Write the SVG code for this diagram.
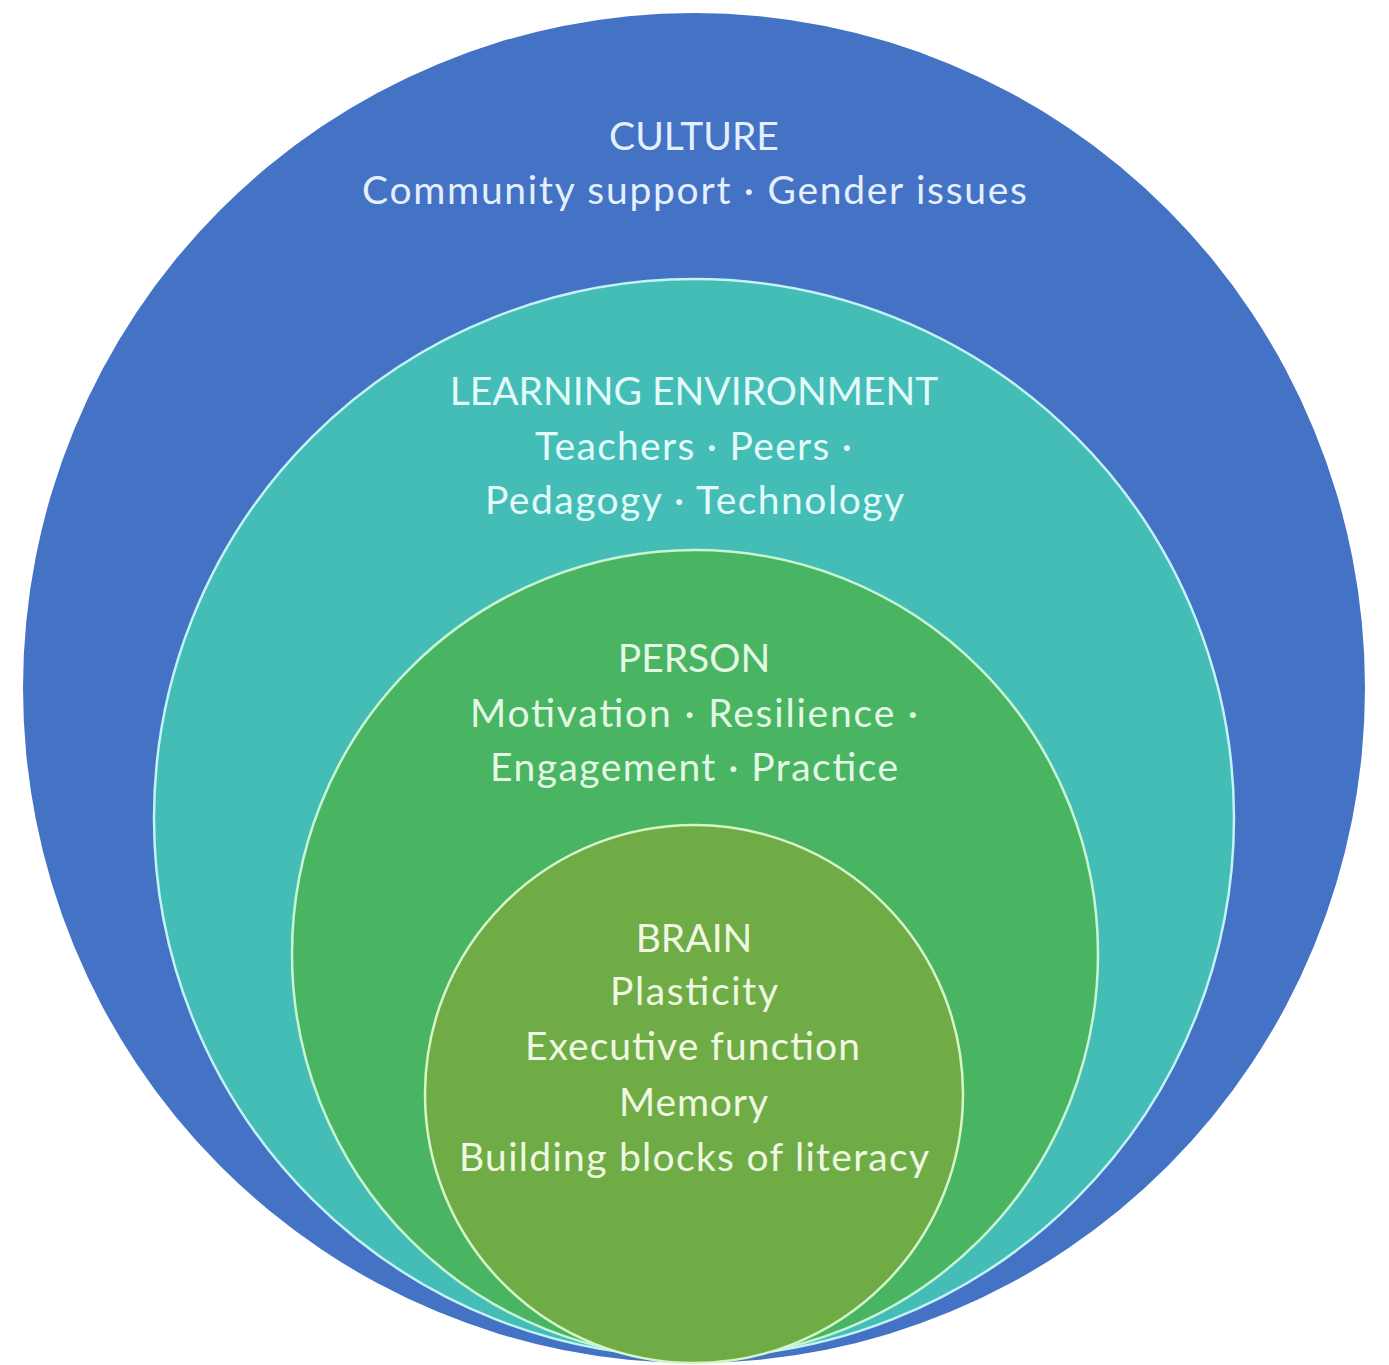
<svg xmlns="http://www.w3.org/2000/svg" width="1389" height="1365" viewBox="0 0 1389 1365">
  <style>
    .lbl { font-family: Lato, "Open Sans", "Liberation Sans", sans-serif; font-size: 39px; text-anchor: middle; }
    .t-culture { fill: #e4efff; }
    .t-env { fill: #e2fbfa; }
    .t-person { fill: #e3f9e6; }
    .t-brain { fill: #eef8e2; }
  </style>
  <rect width="1389" height="1365" fill="#ffffff"/>

  <!-- outermost ring: culture -->
  <g id="culture">
    <ellipse cx="694" cy="688" rx="671" ry="675" fill="#4472c4"/>
    <text class="lbl t-culture" x="694" y="150">CULTURE</text>
    <text class="lbl t-culture" x="694.5" y="204" textLength="665">Community support · Gender issues</text>
  </g>

  <!-- learning environment ring -->
  <g id="learning-environment">
    <ellipse cx="694" cy="818" rx="540" ry="539" fill="#43bdb5" stroke="#c4f3f6" stroke-width="2.5"/>
    <text class="lbl t-env" x="694" y="405">LEARNING ENVIRONMENT</text>
    <text class="lbl t-env" x="693.5" y="460" textLength="317">Teachers · Peers ·</text>
    <text class="lbl t-env" x="694.5" y="514" textLength="419">Pedagogy · Technology</text>
  </g>

  <!-- person ring -->
  <g id="person">
    <ellipse cx="695" cy="954" rx="403" ry="404" fill="#49b462" stroke="#c8f5d4" stroke-width="2.5"/>
    <text class="lbl t-person" x="694" y="672">PERSON</text>
    <text class="lbl t-person" x="694" y="727" textLength="448">Motivation · Resilience ·</text>
    <text class="lbl t-person" x="694" y="781" textLength="408">Engagement · Practice</text>
  </g>

  <!-- innermost circle: brain -->
  <g id="brain">
    <ellipse cx="694" cy="1094" rx="269" ry="269" fill="#6fac45" stroke="#d6f6c8" stroke-width="2.5"/>
    <text class="lbl t-brain" x="694" y="952">BRAIN</text>
    <text class="lbl t-brain" x="694" y="1005" textLength="168">Plasticity</text>
    <text class="lbl t-brain" x="692.5" y="1060" textLength="335">Executive function</text>
    <text class="lbl t-brain" x="693.5" y="1116" textLength="149">Memory</text>
    <text class="lbl t-brain" x="694" y="1171" textLength="470">Building blocks of literacy</text>
  </g>

  <g id="connectors"/>
</svg>
